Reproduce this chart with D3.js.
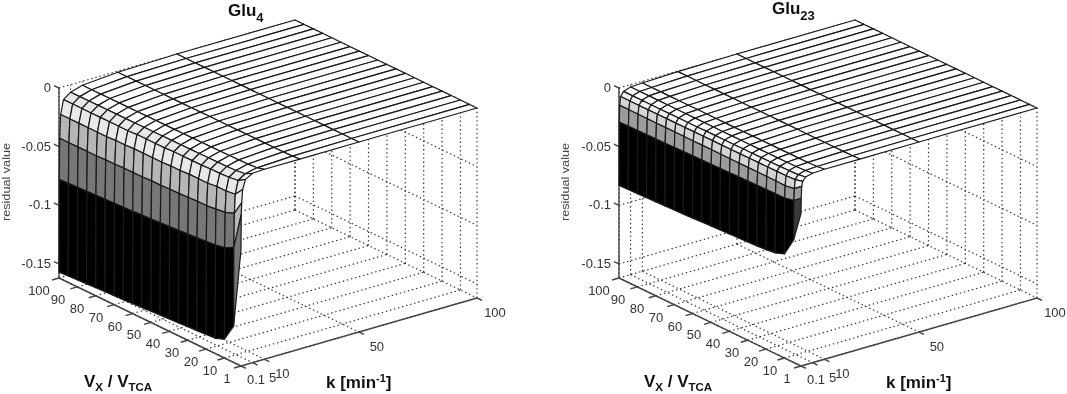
<!DOCTYPE html>
<html lang="en">
<head>
<meta charset="utf-8">
<title>Glu4 and Glu23 residual surfaces</title>
<script src="https://d3js.org/d3.v7.min.js"></script>
<style>
  html, body { margin: 0; padding: 0; background: #fff; }
  svg { display: block; filter: blur(0.35px); }
  text { font-family: "Liberation Sans", Arial, Helvetica, sans-serif; }
  .tick { font-size: 13px; fill: #333; }
  .ylab { font-size: 11px; fill: #444; }
  .big { font-size: 17px; font-weight: bold; fill: #111; }
  .title { font-size: 17px; font-weight: bold; fill: #111; }
  .grid { fill: none; stroke: #333; stroke-width: 1.2; stroke-dasharray: 1.4 2.8; }
  .axis { fill: none; stroke: #444; stroke-width: 1.4; }
  .face { stroke: #1a1a1a; stroke-width: 1.2; stroke-linejoin: round; }
</style>
</head>
<body>
<svg width="1067" height="394"></svg>
<script>
// grid of the surfaces
const vValues = [100, 95, 90, 85, 80, 75, 70, 65, 60, 55, 50, 45, 40, 35, 30, 25, 20, 15, 10, 5, 1];
const kValues = [0.1, 0.2, 0.4, 0.8, 2, 5, 10, 25, 50, 100];

// tick values and labels
const vTicks = [100, 90, 80, 70, 60, 50, 40, 30, 20, 10, 1];
const kTicks = [0.1, 5, 10, 50, 100];
const zTicks = [0, -0.05, -0.1, -0.15];
const zTickLabels = ["0", "-0.05", "-0.1", "-0.15"];

// residual value, one row per entry of vValues, one column per entry of kValues
const glu4Residuals = [
  [-0.157, -0.078, -0.043, -0.023, -0.011, -0.0064, -0.0034, -0.001, 0, 0],
  [-0.1565, -0.0776, -0.043, -0.023, -0.011, -0.0064, -0.0034, -0.001, 0, 0],
  [-0.156, -0.0772, -0.043, -0.023, -0.011, -0.0064, -0.0034, -0.001, 0, 0],
  [-0.1556, -0.0768, -0.043, -0.023, -0.011, -0.0063, -0.0033, -0.001, 0, 0],
  [-0.1552, -0.0764, -0.043, -0.023, -0.011, -0.0063, -0.0033, -0.001, 0, 0],
  [-0.1548, -0.076, -0.0425, -0.023, -0.011, -0.0062, -0.0033, -0.001, 0, 0],
  [-0.1544, -0.0756, -0.0425, -0.0225, -0.011, -0.0062, -0.0032, -0.001, 0, 0],
  [-0.154, -0.0752, -0.042, -0.0225, -0.011, -0.0061, -0.0032, -0.001, 0, 0],
  [-0.1535, -0.0748, -0.042, -0.022, -0.0105, -0.006, -0.0032, -0.001, 0, 0],
  [-0.153, -0.0743, -0.042, -0.022, -0.0105, -0.006, -0.0031, -0.0009, 0, 0],
  [-0.1525, -0.0738, -0.0415, -0.022, -0.0105, -0.0059, -0.0031, -0.0009, 0, 0],
  [-0.152, -0.0733, -0.0415, -0.022, -0.0105, -0.0058, -0.003, -0.0009, 0, 0],
  [-0.1515, -0.0728, -0.041, -0.0215, -0.01, -0.0058, -0.003, -0.0009, 0, 0],
  [-0.151, -0.0722, -0.041, -0.0215, -0.01, -0.0057, -0.003, -0.0009, 0, 0],
  [-0.1505, -0.0716, -0.0405, -0.021, -0.01, -0.0056, -0.0029, -0.0008, 0, 0],
  [-0.15, -0.071, -0.04, -0.021, -0.01, -0.0055, -0.0028, -0.0008, 0, 0],
  [-0.1495, -0.0703, -0.04, -0.021, -0.0095, -0.0054, -0.0027, -0.0008, 0, 0],
  [-0.149, -0.0695, -0.039, -0.02, -0.0095, -0.0053, -0.0026, -0.0007, 0, 0],
  [-0.146, -0.068, -0.038, -0.02, -0.009, -0.005, -0.0024, -0.0007, 0, 0],
  [-0.131, -0.064, -0.035, -0.019, -0.008, -0.004, -0.0018, -0.0005, 0, 0],
  [-0.063, -0.033, -0.023, -0.012, -0.004, -0.0005, 0, 0, 0, 0]
];

const glu23Residuals = [
  [-0.083, -0.029, -0.015, -0.0077, -0.004, -0.002, -0.0015, -0.0005, 0, 0],
  [-0.0828, -0.029, -0.015, -0.0077, -0.004, -0.002, -0.0015, -0.0005, 0, 0],
  [-0.0825, -0.0288, -0.015, -0.0077, -0.004, -0.002, -0.0015, -0.0005, 0, 0],
  [-0.0822, -0.0286, -0.015, -0.0077, -0.004, -0.002, -0.0015, -0.0005, 0, 0],
  [-0.0819, -0.0284, -0.015, -0.0076, -0.004, -0.002, -0.0015, -0.0005, 0, 0],
  [-0.0816, -0.0282, -0.015, -0.0076, -0.004, -0.002, -0.0015, -0.0005, 0, 0],
  [-0.0813, -0.028, -0.015, -0.0076, -0.004, -0.002, -0.0014, -0.0005, 0, 0],
  [-0.081, -0.0278, -0.015, -0.0075, -0.004, -0.002, -0.0014, -0.0005, 0, 0],
  [-0.0806, -0.0276, -0.015, -0.0075, -0.004, -0.002, -0.0014, -0.0005, 0, 0],
  [-0.0802, -0.0274, -0.015, -0.0075, -0.0038, -0.002, -0.0014, -0.0004, 0, 0],
  [-0.0798, -0.0272, -0.015, -0.0074, -0.0038, -0.002, -0.0014, -0.0004, 0, 0],
  [-0.0794, -0.027, -0.015, -0.0074, -0.0038, -0.002, -0.0013, -0.0004, 0, 0],
  [-0.079, -0.0268, -0.015, -0.0074, -0.0038, -0.0019, -0.0013, -0.0004, 0, 0],
  [-0.0786, -0.0266, -0.015, -0.0073, -0.0037, -0.0019, -0.0013, -0.0004, 0, 0],
  [-0.0782, -0.0264, -0.015, -0.0073, -0.0037, -0.0019, -0.0012, -0.0004, 0, 0],
  [-0.0778, -0.0262, -0.015, -0.0072, -0.0036, -0.0018, -0.0012, -0.0004, 0, 0],
  [-0.0772, -0.026, -0.015, -0.0072, -0.0035, -0.0018, -0.0011, -0.0003, 0, 0],
  [-0.0762, -0.0258, -0.015, -0.0071, -0.0035, -0.0017, -0.0011, -0.0003, 0, 0],
  [-0.0733, -0.0256, -0.0153, -0.007, -0.0033, -0.0016, -0.001, -0.0003, 0, 0],
  [-0.0575, -0.024, -0.014, -0.0065, -0.003, -0.0012, -0.0007, -0.0002, 0, 0],
  [-0.032, -0.019, -0.009, -0.005, -0.002, -0.0005, 0, 0, 0, 0]
];

const titles = [{ base: "Glu", sub: "4" }, { base: "Glu", sub: "23" }];
const panelResiduals = [glu4Residuals, glu23Residuals];

// the face colours step in bands, every panel has its own limits
const greyGlu4 = d3.scaleThreshold()
  .domain([-0.09, -0.05, -0.03, -0.0075])
  .range(["#000000", "#777777", "#b6b6b6", "#e8e8e8", "#ffffff"]);
const greyGlu23 = d3.scaleThreshold()
  .domain([-0.04, -0.031, -0.018, -0.01, -0.005])
  .range(["#000000", "#3a3a3a", "#9c9c9c", "#d4d4d4", "#f0f0f0", "#ffffff"]);
const panelGrey = [greyGlu4, greyGlu23];

// orthographic view: each data axis becomes a fixed screen vector
const vPos = d3.scaleLinear().domain([100, 1]).range([0, 1]);
const kPos = d3.scaleLinear().domain([0.1, 100]).range([0, 1]);
const zPos = d3.scaleLinear().domain([0, -0.162]).range([0, 190]);
const zFloor = -0.162;
// the V labels drift a little closer to the axis towards V = 1
const vLabelShift = d3.scaleLinear().domain([100, 1]).range([-20, -14]);

function project(v, k, z) {
  return [
    59 + vPos(v) * 182 + kPos(k) * 236,
    88 + vPos(v) * 88 - kPos(k) * 68 + zPos(z)
  ];
}

const svg = d3.select("svg");
const line = d3.line();
const closed = d3.line().curve(d3.curveLinearClosed);
const vTop = vValues[0], vLow = vValues[vValues.length - 1];
const kLow = kValues[0], kTop = kValues[kValues.length - 1];

panelResiduals.forEach((residuals, p) => {
  const g = svg.append("g").attr("transform", "translate(" + p * 560 + ",0)");

  // dotted box grid behind the surface
  const gridLines = [];
  vTicks.forEach(v => {
    gridLines.push([project(v, kLow, zFloor), project(v, kTop, zFloor)]);
    gridLines.push([project(v, kTop, zFloor), project(v, kTop, 0)]);
  });
  kTicks.forEach(k => {
    gridLines.push([project(vTop, k, zFloor), project(vLow, k, zFloor)]);
    gridLines.push([project(vTop, k, zFloor), project(vTop, k, 0)]);
  });
  zTicks.forEach(z => {
    gridLines.push([project(vTop, kLow, z), project(vTop, kTop, z)]);
    gridLines.push([project(vTop, kTop, z), project(vLow, kTop, z)]);
  });
  g.selectAll(".grid").data(gridLines).enter().append("path")
    .attr("class", "grid")
    .attr("d", d => line(d));

  // axis lines and ticks
  const axisLines = [
    [project(vTop, kLow, 0), project(vTop, kLow, zFloor)],
    [project(vTop, kLow, zFloor), project(vLow, kLow, zFloor)],
    [project(vLow, kLow, zFloor), project(vLow, kTop, zFloor)]
  ];
  zTicks.forEach(z => {
    const a = project(vTop, kLow, z);
    axisLines.push([a, [a[0] - 5, a[1] - 2.4]]);
  });
  vTicks.forEach(v => {
    const a = project(v, kLow, zFloor);
    axisLines.push([a, [a[0] - 7, a[1] + 2]]);
  });
  kTicks.forEach(k => {
    const a = project(vLow, k, zFloor);
    axisLines.push([a, [a[0] + 5, a[1] + 2.4]]);
  });
  g.selectAll(".axis").data(axisLines).enter().append("path")
    .attr("class", "axis")
    .attr("d", d => line(d));

  // surface faces, far corner first so nearer faces paint over
  const faces = [];
  for (let i = 0; i < vValues.length - 1; i++) {
    for (let j = kValues.length - 2; j >= 0; j--) {
      faces.push({
        corners: [
          project(vValues[i], kValues[j], residuals[i][j]),
          project(vValues[i], kValues[j + 1], residuals[i][j + 1]),
          project(vValues[i + 1], kValues[j + 1], residuals[i + 1][j + 1]),
          project(vValues[i + 1], kValues[j], residuals[i + 1][j])
        ],
        value: residuals[i + 1][j]
      });
    }
  }
  g.selectAll(".face").data(faces).enter().append("path")
    .attr("class", "face")
    .attr("d", d => closed(d.corners))
    .attr("fill", d => panelGrey[p](d.value));

  // tick labels
  g.selectAll(".ztick").data(zTicks).enter().append("text")
    .attr("class", "tick ztick")
    .attr("text-anchor", "end")
    .attr("x", d => project(vTop, kLow, d)[0] - 8)
    .attr("y", d => project(vTop, kLow, d)[1] + 4)
    .text((d, i) => zTickLabels[i]);

  g.selectAll(".vtick").data(vTicks).enter().append("text")
    .attr("class", "tick vtick")
    .attr("text-anchor", "middle")
    .attr("x", d => project(d, kLow, zFloor)[0] + vLabelShift(d))
    .attr("y", d => project(d, kLow, zFloor)[1] + 17)
    .text(d => d);

  g.selectAll(".ktick").data(kTicks).enter().append("text")
    .attr("class", "tick ktick")
    .attr("text-anchor", "middle")
    .attr("x", d => project(vLow, d, zFloor)[0] + (d === 0.1 ? 15 : d === 5 ? 20 : 18))
    .attr("y", d => project(vLow, d, zFloor)[1] + (d === 0.1 ? 18 : 19))
    .text(d => d);

  // titles and axis names
  const title = g.append("text").attr("class", "title")
    .attr("x", p === 0 ? 228 : 212)
    .attr("y", p === 0 ? 16 : 14);
  title.append("tspan").text(titles[p].base);
  title.append("tspan").attr("dy", 6).style("font-size", "13px").text(titles[p].sub);

  g.append("text").attr("class", "ylab")
    .attr("transform", "translate(" + (p === 0 ? 10 : 9) + ",182) rotate(-90)")
    .attr("text-anchor", "middle")
    .attr("textLength", 78)
    .attr("lengthAdjust", "spacingAndGlyphs")
    .text("residual value");

  const vLabel = g.append("text").attr("class", "big").attr("x", 84).attr("y", 387);
  vLabel.append("tspan").text("V");
  vLabel.append("tspan").attr("dy", 4).style("font-size", "11.5px").text("X");
  vLabel.append("tspan").attr("dy", -4).text(" / V");
  vLabel.append("tspan").attr("dy", 4).style("font-size", "11.5px").text("TCA");

  const kLabel = g.append("text").attr("class", "big").attr("x", 326).attr("y", 388);
  kLabel.append("tspan").text("k [min");
  kLabel.append("tspan").attr("dy", -6).style("font-size", "11px").text("-1");
  kLabel.append("tspan").attr("dy", 6).text("]");
});
</script>
</body>
</html>
